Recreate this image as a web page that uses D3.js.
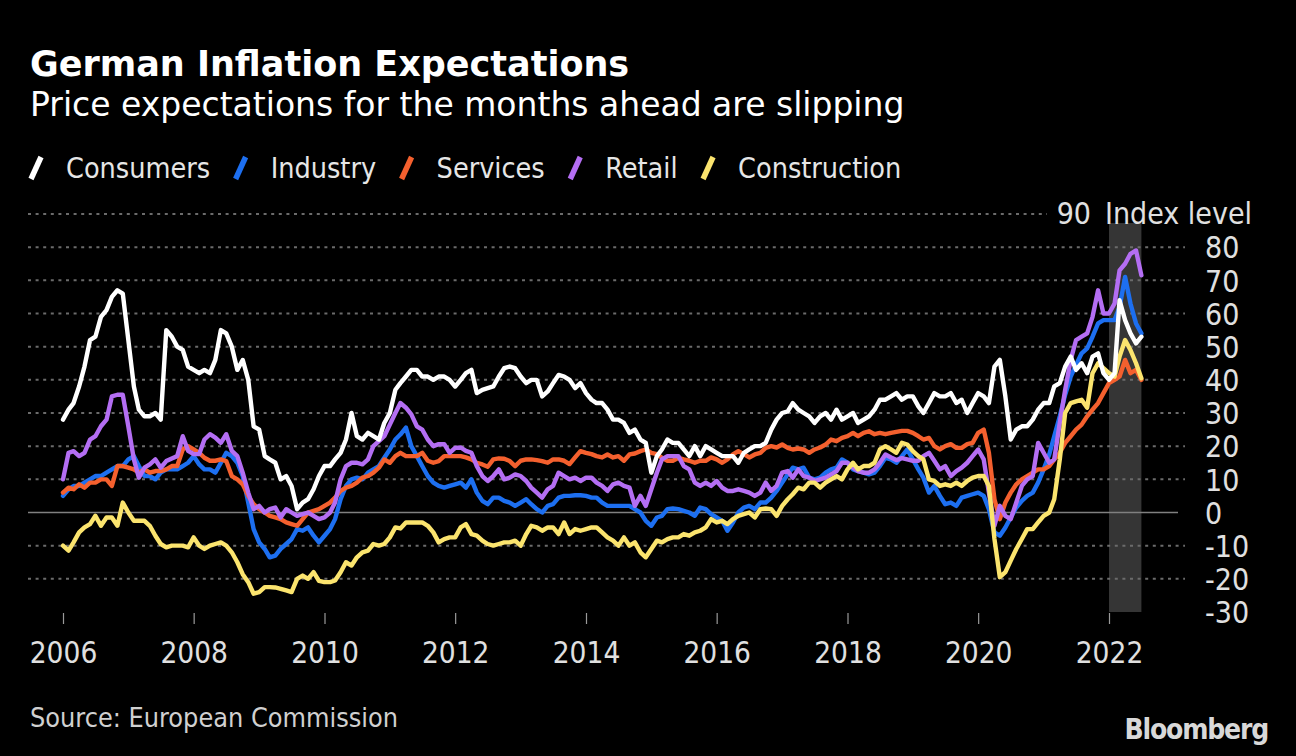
<!DOCTYPE html>
<html><head><meta charset="utf-8">
<script src="https://cdn.jsdelivr.net/npm/d3@7"></script>
<style>
html,body{margin:0;padding:0;background:#000;}
svg{display:block;}
.cond{font-family:'DejaVu Sans Condensed','DejaVu Sans',sans-serif;font-stretch:condensed;}
</style></head><body>
<svg id="chart" width="1296" height="756"></svg>
<script>
// ---------- DATA (monthly, Jan 2006 – Jul 2022) ----------
const startMonth = "2006-01";
const seriesNames = ["Consumers","Industry","Services","Retail","Construction"];
const seriesColors = ["#ffffff","#1d6ff0","#f4602e","#b46ef3","#fbe46e"];

const consumers = [
 28,31,33,38,44,52,53,59,61,65,67,66,
 52,38,31,29,29,30,28,55,53,50,49,44,
 43,42,43,42,46,55,54,50,43,46,40,26,
 25,17,16,15,10,11,8,1,3,4,7,11,
 14,14,16,18,22,30,23,22,24,23,22,27,
 30,37,39,41,43,43,41,41,40,41,41,40,
 38,40,42,43,36,37,37.5,38,41,43.5,44,43.5,
 41,39,40,40,35,36.5,39,41.5,41,40,37.5,39,
 36,34,33,33,31,28,28,27,24,25,22,21,
 12,17,19,22,21,21,19,17,20,17,20,19,
 18,17,17,17,15,18,19,20,20,21,25,28,
 30,30.5,33,31,30,29,27,29,30,28,31,28,
 29,30,27,28,29,31,34,34,35,36,34,35,
 35,32,30,33,36,35,35,36,33,34,30,33,
 36,35,33,44,46,35,22,25,26,26,28,31,
 33,33,38,39,44,47,43,45,42,47,48,42,
 40,42,64,58,54,51,53];

const industry = [
 5,7,8,8,9,10,11,11,12,13,14,14,
 16,17,14,11,11,10,12,13,13,13,14,15,
 17,14.5,13,13,12,15,18,17,15,11,3,-5,
 -9,-11,-13.5,-13,-11,-9.5,-8,-5,-5.5,-4.5,-7,-9,
 -7,-5,-2,4,8,10,10.5,10,12,13,14,16.5,
 19,22,23.5,25.6,20,17,14,11,9,8,7.5,8,
 8.5,9,7.5,10,6,3.5,2.5,4.5,4.5,3.5,3,2,
 3,4,2.5,1,0,2,2.5,4.5,5,5,5.2,5.2,
 5,4.5,4.5,3,2,2,2,2,2,1,0,-2.5,
 -4,-1.5,-1,1,1.2,1,0.5,0,-1,1.5,1,-0.5,
 -1.5,-2.5,-5.5,-3,0,1.5,2,1,3,3,4.5,6.5,
 9,11.5,13.5,13,13.5,10.5,10,10.5,12,13,13.5,16,
 15,13,12.5,12,11.5,12,14,16.5,16,15,17,19,
 16,13,10.5,6,8,5,2.5,3,2,4.5,5,5.5,
 6,5,1,-6,-7,-4.5,-1.5,1.5,3.5,5,6,9,
 13,17.5,23,29,35.5,41,44.5,48,49.5,53,57,58,
 58,58,62,71,63,57,54];

const services = [
 6,7.5,7,8.5,7.5,9,9,10,10,8,14,14,
 13.5,13,12,13,12,12.5,12.5,13,14,14,19,20,
 19,18,16.5,15.6,15.6,16,15.5,11,10,8.5,5,2.5,
 1,0,-1,-1.5,-2,-3,-3.5,-4,-2,0,0.5,1,
 2,3,4.5,6.5,7.5,8,9,10.5,11,12,13.5,16,
 15,17,18,17,17,17,18,15.6,15,15.5,17,17,
 17,17,16.6,16,15,14.5,13.8,16,16.3,16.2,15.5,14,
 15.6,16,16,15.8,15.5,15,16,16,15.6,14.6,16.6,18.5,
 18,17.6,17,16.6,17.5,16.6,17,15.6,17.5,17.8,18.5,19,
 18,17.6,16.5,15.6,15.6,16.5,16,15.6,15,15.6,15.6,16.6,
 16,15,16,17.5,18.5,17.6,16.6,17.5,18,19.5,20,19.6,
 20.5,19.5,19,19.3,19,18,19,19.6,20.5,22,21.5,22.5,
 23,24,23,24,24.5,23.6,24,23.6,24,24.3,24.6,24.6,
 24,23,22,22.5,20,19,20,20.6,19.5,19.5,20.6,21,
 24,25,18,4,-2,3,6,8.5,10,11,12,13,
 13,14,16,18,21,23,25,26.5,29,31,33,36,
 39,40,41,46,42,43,40];

const retail = [
 10,18,18.5,17,18,22,23,26,28,35,35.5,35.5,
 26,16,10.5,13.5,14.5,16,13.5,15.5,16.3,17,23,18.6,
 17.6,17.6,22,23.6,22.6,21,23.6,18.6,17,12,6,1,
 2,0,1,1.5,-1.5,1,0,-1,-0.5,0,-1,-2,
 -1.5,0,3,10,14,15,15,14.5,16,20,21.5,23,
 26.5,30,33,31.6,29.6,26,25,22,20,20.6,20.6,18,
 19.5,19.6,18.6,18,14,11,9.5,11,13,10,10.5,11.5,
 11,9.5,7.5,6,4.5,7,8,12,11,10,10.5,9.5,
 10.5,10.5,9,8,6.5,8.5,9,8,7.5,2,5,2,
 7,12,16,17,17,17,14,13,9,8,9,8,
 9.5,7.5,6.5,6.5,7,6.5,6,5,6,9,6.5,8,
 12,12.5,10.5,13,11,10.5,9.5,10,10.5,11.5,12.5,15,
 15,13.5,12.5,12,12,13,15,17.5,16.6,15.8,16.4,16,
 15.6,15.6,17,18,15.6,13,14,11,12.5,13.5,15,17,
 19,16,6,-4,2,-1,-2,3,8,10,11,21,
 18,15,16,27,37,46,52,53,54,59,67,60,
 60,63,73,75,78,79,71.5];

const construction = [
 -10,-11.5,-9,-6,-4.5,-3.5,-1,-4,-1.5,-1.5,-4,3,
 0,-2.5,-2.5,-2.5,-4,-7,-9.5,-10.5,-10,-10,-10,-10.5,
 -7.5,-10,-11,-10,-9.5,-9,-10,-12,-15,-18.6,-21,-24.5,
 -24,-22.5,-22.5,-22.6,-23,-23.5,-24,-20,-19,-20,-18,-20.6,
 -21,-21,-20.5,-18,-15,-16,-13.5,-12,-11.5,-9.5,-10,-9.5,
 -7.5,-4.5,-4.8,-3,-3,-3,-3,-4,-6,-9,-8,-7.5,
 -7.5,-4.5,-3.5,-6.5,-7,-8.5,-9.5,-10,-9.5,-9,-9,-8.5,
 -10,-6.5,-4,-4.5,-5.5,-4.5,-4.5,-6.5,-3,-6.5,-5,-5.5,
 -5,-4.5,-4.5,-6,-7.5,-8.5,-10,-7.5,-10,-9,-12,-13.5,
 -11,-8.5,-9,-8,-7.5,-7.5,-6.5,-7,-6,-5.5,-4.5,-2,
 -3,-2.5,-3.5,-2,-1,-0.5,0,-1.5,1,1.2,1,-1,
 2,4,5.5,7.5,7,9,9,7.5,9,10,11,10,
 13,15,13,14,14,15,19,20,19,18,21,20.5,
 18.5,17,16,10,9.5,8,8.5,8,9,8,9.5,10.5,
 11,11,8,-8,-19.5,-18,-14.5,-11,-8,-5,-5,-3,
 -1,0,4,16,30,33,33.5,34,31.6,42,45,43.5,
 42,41,47,52,49,45,40.5];

const yTickValues = [-30,-20,-10,0,10,20,30,40,50,60,70,80,90];
const xTickYears = [2006,2008,2010,2012,2014,2016,2018,2020,2022];
const shadeFrom = "2022-01", shadeTo = "2022-07";
const yUnitLabel = "Index level";

// ---------- SETUP ----------
const svg = d3.select("#chart");
svg.append("rect").attr("width",1296).attr("height",756).attr("fill","#000");

const parseM = d3.timeParse("%Y-%m");
const t0 = parseM(startMonth);
const dates = consumers.map((_, i) => d3.timeMonth.offset(t0, i));

const x = d3.scaleTime().domain([new Date(2006,0,1), new Date(2022,0,1)]).range([63,1109]);
const y = d3.scaleLinear().domain([-30,90]).range([612,214]);

const gridLeft = 28, gridRight = 1185;

// shaded period
svg.append("rect")
  .attr("x", x(parseM(shadeFrom)))
  .attr("width", x(parseM(shadeTo)) - x(parseM(shadeFrom)))
  .attr("y", y(87.3))
  .attr("height", y(-30) - y(87.3))
  .attr("fill", "#353535");

// grid
const gridVals = yTickValues.filter(v => v !== 0 && v !== -30);
svg.append("g").selectAll("line").data(gridVals).join("line")
  .attr("x1", gridLeft)
  .attr("x2", d => d === 90 ? 1047 : gridRight)
  .attr("y1", d => y(d)).attr("y2", d => y(d))
  .attr("stroke", "#6b6b6b").attr("stroke-width", 2)
  .attr("stroke-dasharray", "3,4.6");

svg.append("line")
  .attr("x1", gridLeft).attr("x2", 1178)
  .attr("y1", y(0)).attr("y2", y(0))
  .attr("stroke", "#808080").attr("stroke-width", 1.5);

// y axis (right)
const yAxis = d3.axisRight(y).tickValues(yTickValues).tickSize(0).tickPadding(0)
  .tickFormat(d => d === 90 ? `90\u00A0\u2009${yUnitLabel}` : d3.format("d")(d).replace("−","-"));
const gy = svg.append("g").attr("transform","translate(1205,0)").call(yAxis);
gy.select(".domain").remove();
gy.selectAll("text")
  .attr("class","cond")
  .attr("fill","#e0e0e0")
  .attr("font-size", 30)
  .attr("dy","0.36em")
  .attr("x", 0);
gy.selectAll(".tick").filter(d => d === 90).select("text")
  .attr("text-anchor","end").attr("x", 47).attr("dy","0.30em");

// x axis
const xAxis = d3.axisBottom(x)
  .tickValues(xTickYears.map(yr => new Date(yr,0,1)))
  .tickSize(11).tickPadding(0)
  .tickFormat(d3.timeFormat("%Y"));
const gx = svg.append("g").attr("transform", `translate(0,${y(-30)+1})`).call(xAxis);
gx.select(".domain").remove();
gx.selectAll(".tick line").attr("stroke","#9a9a9a").attr("stroke-width",1.2);
gx.selectAll("text")
  .attr("class","cond")
  .attr("fill","#e0e0e0")
  .attr("font-size", 29.5)
  .attr("y", 29)
  .attr("dy","0.71em");

// lines
const allSeries = [consumers, industry, services, retail, construction];
const line = d3.line().x((d,i) => x(dates[i])).y(d => y(d));
const drawOrder = [1,2,3,4,0];
svg.append("g").selectAll("path").data(drawOrder).join("path")
  .attr("d", k => line(allSeries[k]))
  .attr("fill","none")
  .attr("stroke", k => seriesColors[k])
  .attr("stroke-width", 4.4)
  .attr("stroke-linejoin","round")
  .attr("stroke-linecap","round");

// title & subtitle
svg.append("text").attr("x",30).attr("y",76)
  .attr("font-family","'DejaVu Sans',sans-serif").attr("font-weight","bold")
  .attr("font-size",35).attr("fill","#fff")
  .text("German Inflation Expectations");
svg.append("text").attr("x",30).attr("y",116)
  .attr("font-family","'DejaVu Sans',sans-serif")
  .attr("font-size",33).attr("fill","#fff")
  .text("Price expectations for the months ahead are slipping");

// legend
let lx = 29;
const legend = svg.append("g");
seriesNames.forEach((name, k) => {
  legend.append("line")
    .attr("x1", lx+2).attr("y1", 179).attr("x2", lx+12).attr("y2", 157)
    .attr("stroke", seriesColors[k]).attr("stroke-width", 5.5);
  const t = legend.append("text").attr("class","cond")
    .attr("x", lx+37).attr("y", 178)
    .attr("font-size", 28.5).attr("fill","#e6e6e6").text(name);
  lx = lx + 37 + t.node().getComputedTextLength() + 23.5;
});

// source & logo
svg.append("text").attr("class","cond").attr("x",30).attr("y",727)
  .attr("font-size",26.8).attr("fill","#d0d0d0").text("Source: European Commission");
svg.append("text").attr("class","cond").attr("x",1268).attr("y",739)
  .attr("text-anchor","end").attr("font-weight","bold")
  .attr("font-size",28).attr("letter-spacing",-1.2).attr("fill","#d8d8d8").text("Bloomberg");
</script>
</body></html>
